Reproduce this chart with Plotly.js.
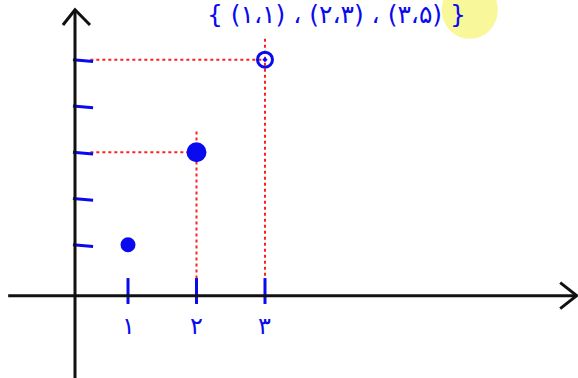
<!DOCTYPE html>
<html>
<head>
<meta charset="utf-8">
<script src="https://cdn.plot.ly/plotly-3.0.1.min.js"></script>
<style>html,body{margin:0;padding:0;background:#fff;}#chart{width:578px;height:378px;}</style>
</head>
<body>
<div id="chart"></div>
<script>
// Data
const xValues = [1, 2, 3];
const yValues = [1, 3, 5];
const xTickLabels = ['۱', '۲', '۳'];
const yTickValues = [1, 2, 3, 4, 5];
const headerText = '{ (۱،۱) ، (۲،۳) ، (۳،۵) }';

const BLUE = '#0a0aee';
const RED = '#ff2020';
const BLACK = '#111111';

// Axis geometry (data units)
const axisX = 0.226;   // where the y-axis is drawn
const axisY = -0.1;    // where the x-axis is drawn

const traces = [];

// red dotted guide lines
const gx = [], gy = [];
for (let i = 0; i < xValues.length; i++) {
  if (yValues[i] < 2) continue;
  gx.push(0.45, xValues[i], null, xValues[i], xValues[i], null);
  gy.push(yValues[i], yValues[i], null, yValues[i] + 0.45, 0.2, null);
}
traces.push({x: gx, y: gy, mode: 'lines', line: {color: RED, width: 2, dash: 'dot'}, hoverinfo: 'skip', showlegend: false});

// y tick dashes
const ytx = [], yty = [];
yTickValues.forEach(v => { ytx.push(axisX - 0.03, 0.49, null); yty.push(v, v - 0.04, null); });
traces.push({x: ytx, y: yty, mode: 'lines', line: {color: BLUE, width: 3}, hoverinfo: 'skip', showlegend: false});

// x tick marks
const xtx = [], xty = [];
xValues.forEach(v => { xtx.push(v, v, null); xty.push(0.28, -0.28, null); });
traces.push({x: xtx, y: xty, mode: 'lines', line: {color: BLUE, width: 3}, hoverinfo: 'skip', showlegend: false});

// points
traces.push({
  x: xValues, y: yValues, mode: 'markers',
  marker: {color: BLUE, opacity: 1, size: [12, 17, 15], symbol: ['circle', 'circle', 'circle-open-dot'], line: {color: BLUE, width: 3}},
  showlegend: false
});

const shapes = [
  // yellow highlight
  {type: 'circle', xref: 'x', yref: 'y', x0: 5.58, x1: 6.4, y0: 5.45, y1: 6.7, fillcolor: '#f8f89a', line: {width: 0}, layer: 'below'},
  // x-axis
  {type: 'line', x0: -0.75, x1: 7.55, y0: axisY, y1: axisY, line: {color: BLACK, width: 3}},
  {type: 'path', path: 'M 7.31 0.18 L 7.55 -0.1 L 7.31 -0.38', line: {color: BLACK, width: 3}},
  // y-axis
  {type: 'line', x0: axisX, x1: axisX, y0: -1.95, y1: 6.08, line: {color: BLACK, width: 3}},
  {type: 'path', path: 'M 0.05 5.75 L 0.226 6.08 L 0.445 5.75', line: {color: BLACK, width: 3}}
];

const annotations = xValues.map((v, i) => ({
  x: v, y: -0.75, xref: 'x', yref: 'y', text: xTickLabels[i], showarrow: false,
  font: {family: 'DejaVu Sans', size: 24, color: BLUE}
}));
annotations.push({
  x: 4.05, y: 1.0, xref: 'x', yref: 'paper', yanchor: 'top', yshift: 2, text: headerText, showarrow: false,
  font: {family: 'DejaVu Sans', size: 25, color: BLUE}
});

const layout = {
  width: 578, height: 378,
  margin: {l: 0, r: 0, t: 0, b: 0},
  paper_bgcolor: '#fff', plot_bgcolor: '#fff',
  xaxis: {range: [-0.869, 7.57], visible: false, fixedrange: true},
  yaxis: {range: [-1.88, 6.29], visible: false, fixedrange: true},
  shapes: shapes,
  annotations: annotations,
  showlegend: false
};

Plotly.newPlot('chart', traces, layout, {displayModeBar: false, staticPlot: true});
</script>
</body>
</html>
